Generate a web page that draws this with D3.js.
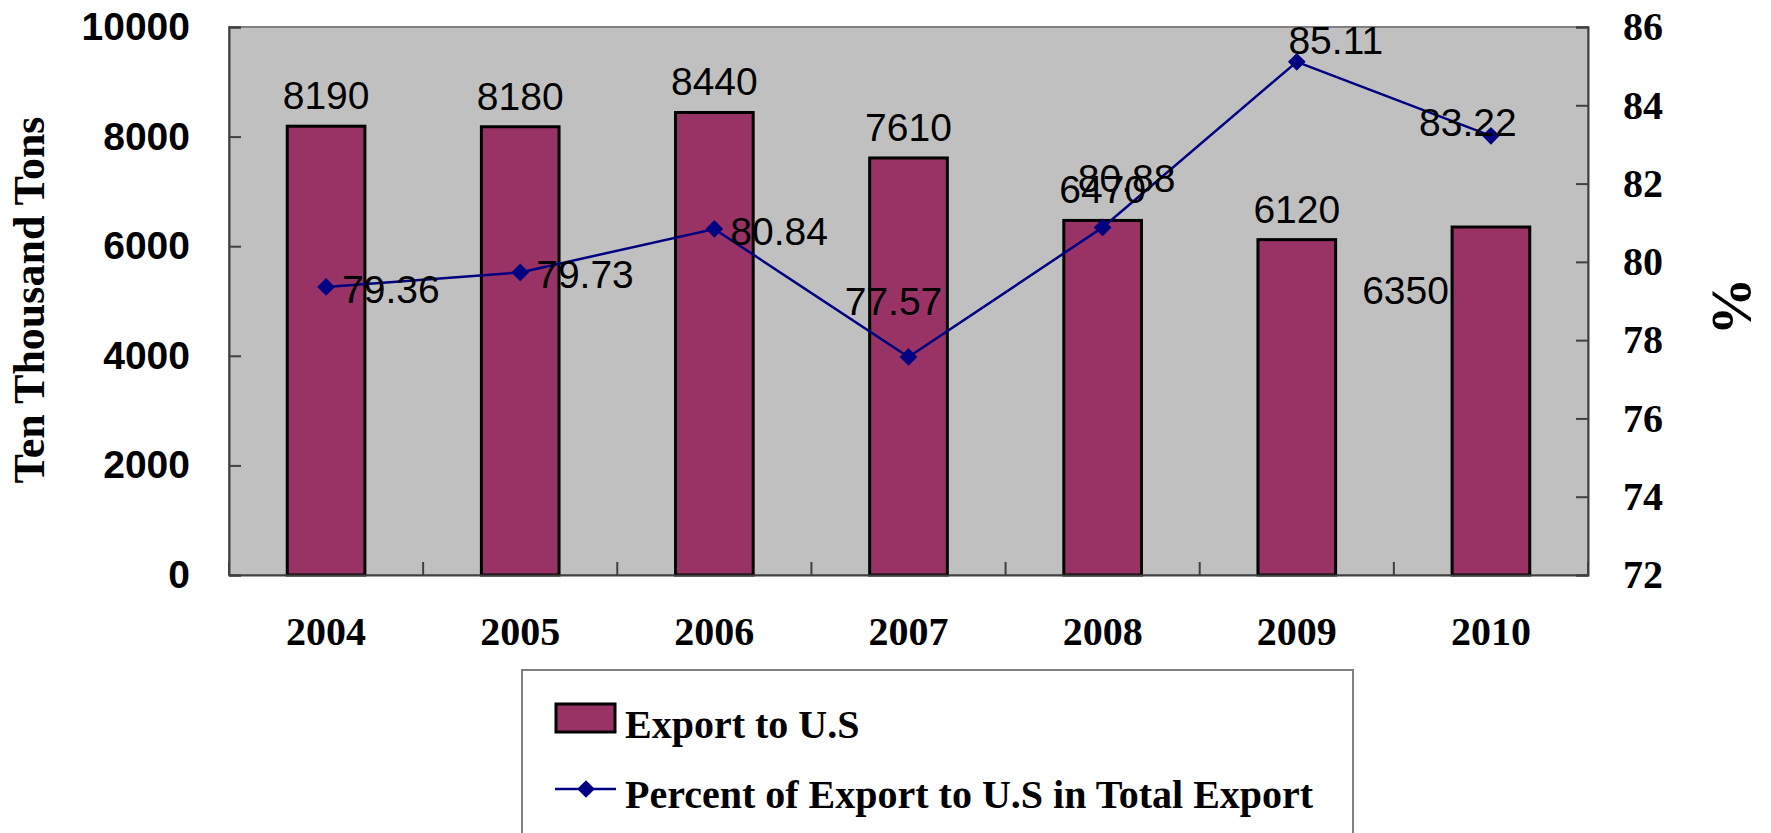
<!DOCTYPE html>
<html>
<head>
<meta charset="utf-8">
<script src="https://cdn.jsdelivr.net/npm/d3@7"></script>
<style>
  body { margin: 0; background: #fff; }
  svg { display: block; }
  .serif { font-family: "Liberation Serif", "Times New Roman", serif; font-weight: bold; }
  .sans { font-family: "Liberation Sans", Arial, sans-serif; }
</style>
</head>
<body>
<div class="visHolder"></div>
<script>
// data
let years = ["2004", "2005", "2006", "2007", "2008", "2009", "2010"];
let exportToUS = [8190, 8180, 8440, 7610, 6470, 6120, 6350];
let percentOfTotal = [79.36, 79.73, 80.84, 77.57, 80.88, 85.11, 83.22];
let leftTicks = [0, 2000, 4000, 6000, 8000, 10000];
let rightTicks = [72, 74, 76, 78, 80, 82, 84, 86];
let seriesNames = ["Export to U.S", "Percent of Export to U.S in Total Export"];

// label placement as it was hand-moved in the original
let barLabelPos = [null, null, null, null, null, null, { anchor: "end", dx: -42, dy: 77 }];
let lineLabelPos = [
  null, null, null,
  { anchor: "middle", dx: -15, dy: -42 },
  { anchor: "middle", dx: 24, dy: -35 },
  { anchor: "middle", dx: 39, dy: -8 },
  { anchor: "middle", dx: -23, dy: 0 }
];

let width = 1771;
let height = 833;
let plot = { left: 229, right: 1588, top: 27, bottom: 575 };

let svg = d3
  .select(".visHolder")
  .append("svg")
  .attr("width", width)
  .attr("height", height);

let xScale = d3
  .scaleBand()
  .domain(years)
  .range([plot.left, plot.right]);

let yLeft = d3.scaleLinear().domain([0, 10000]).range([plot.bottom, plot.top]);
let yRight = d3.scaleLinear().domain([72, 86]).range([plot.bottom, plot.top]);

let barWidth = xScale.bandwidth() * 0.4;
let cx = (d) => xScale(d) + xScale.bandwidth() / 2;

// plot background
svg
  .append("rect")
  .attr("x", plot.left)
  .attr("y", plot.top)
  .attr("width", plot.right - plot.left)
  .attr("height", plot.bottom - plot.top)
  .attr("fill", "#c0c0c0")
  .attr("stroke", "#808080")
  .attr("stroke-width", 2);

// bars
svg
  .selectAll("rect.bar")
  .data(exportToUS)
  .enter()
  .append("rect")
  .attr("class", "bar")
  .attr("x", (d, i) => cx(years[i]) - barWidth / 2)
  .attr("y", (d) => yLeft(d))
  .attr("width", barWidth)
  .attr("height", (d) => plot.bottom - yLeft(d))
  .attr("fill", "#993366")
  .attr("stroke", "#000")
  .attr("stroke-width", 3);

// axes
let leftAxis = d3
  .axisLeft(yLeft)
  .tickValues(leftTicks)
  .tickSize(-12)
  .tickPadding(27 + 12)
  .tickFormat(d3.format("d"));
let gl = svg
  .append("g")
  .attr("transform", "translate(" + plot.left + ",0)")
  .call(leftAxis);
gl.selectAll("text")
  .attr("class", "sans")
  .style("font-size", "39px")
  .style("font-weight", "bold")
  .attr("fill", "#000");

let rightAxis = d3
  .axisRight(yRight)
  .tickValues(rightTicks)
  .tickSize(-12)
  .tickPadding(23 + 12);
let gr = svg
  .append("g")
  .attr("transform", "translate(" + plot.right + ",0)")
  .call(rightAxis);
gr.selectAll("text")
  .attr("class", "serif")
  .style("font-size", "40px")
  .attr("fill", "#000");

let bottomAxis = d3.axisBottom(xScale).tickSize(0).tickPadding(42);
let gb = svg
  .append("g")
  .attr("transform", "translate(0," + plot.bottom + ")")
  .call(bottomAxis);
gb.selectAll("text")
  .attr("class", "serif")
  .style("font-size", "40px")
  .attr("fill", "#000");

// category separators on the bottom axis
let edges = years.map((d) => xScale(d)).concat([plot.right]);
svg
  .selectAll("line.cat-tick")
  .data(edges)
  .enter()
  .append("line")
  .attr("x1", (d) => d)
  .attr("x2", (d) => d)
  .attr("y1", plot.bottom)
  .attr("y2", plot.bottom - 13)
  .attr("stroke", "#404040")
  .attr("stroke-width", 2);

[gl, gr, gb].forEach(function (g) {
  g.select(".domain").attr("stroke", "#404040").attr("stroke-width", 2);
  g.selectAll(".tick line").attr("stroke", "#404040").attr("stroke-width", 2);
});

// line series
let line = d3
  .line()
  .x((d, i) => cx(years[i]))
  .y((d) => yRight(d));

svg
  .append("path")
  .datum(percentOfTotal)
  .attr("d", line)
  .attr("fill", "none")
  .attr("stroke", "#000080")
  .attr("stroke-width", 2.5);

let diamond = d3.symbol().type(d3.symbolDiamond2).size(200);
svg
  .selectAll("path.marker")
  .data(percentOfTotal)
  .enter()
  .append("path")
  .attr("class", "marker")
  .attr("d", diamond)
  .attr("transform", (d, i) => "translate(" + cx(years[i]) + "," + yRight(d) + ")")
  .attr("fill", "#000080");

// bar value labels
svg
  .selectAll("text.bar-label")
  .data(exportToUS)
  .enter()
  .append("text")
  .attr("class", "sans")
  .attr("x", (d, i) => cx(years[i]) + (barLabelPos[i] ? barLabelPos[i].dx : 0))
  .attr("y", (d, i) => yLeft(d) + (barLabelPos[i] ? barLabelPos[i].dy : -17))
  .attr("text-anchor", (d, i) => (barLabelPos[i] ? barLabelPos[i].anchor : "middle"))
  .style("font-size", "39px")
  .text((d) => d);

// percent labels
svg
  .selectAll("text.line-label")
  .data(percentOfTotal)
  .enter()
  .append("text")
  .attr("class", "sans")
  .attr("x", (d, i) => cx(years[i]) + (lineLabelPos[i] ? lineLabelPos[i].dx : 16))
  .attr("y", (d, i) => yRight(d) + (lineLabelPos[i] ? lineLabelPos[i].dy : 16))
  .attr("text-anchor", (d, i) => (lineLabelPos[i] ? lineLabelPos[i].anchor : "start"))
  .style("font-size", "39px")
  .text((d) => d.toFixed(2));

// axis titles
svg
  .append("text")
  .attr("class", "serif")
  .attr("transform", "translate(44,300) rotate(-90)")
  .attr("text-anchor", "middle")
  .style("font-size", "44px")
  .text("Ten Thousand Tons");

svg
  .append("text")
  .attr("class", "serif")
  .attr("transform", "translate(1713,306) rotate(90)")
  .attr("text-anchor", "middle")
  .style("font-size", "58px")
  .text("%");

// legend
let legend = svg.append("g");
legend
  .append("rect")
  .attr("x", 522)
  .attr("y", 670)
  .attr("width", 831)
  .attr("height", 200)
  .attr("fill", "#fff")
  .attr("stroke", "#808080")
  .attr("stroke-width", 2);

legend
  .append("rect")
  .attr("x", 556)
  .attr("y", 704)
  .attr("width", 59)
  .attr("height", 28)
  .attr("fill", "#993366")
  .attr("stroke", "#000")
  .attr("stroke-width", 3);

legend
  .append("line")
  .attr("x1", 555)
  .attr("x2", 616)
  .attr("y1", 789)
  .attr("y2", 789)
  .attr("stroke", "#000080")
  .attr("stroke-width", 2.5);

legend
  .append("path")
  .attr("d", diamond)
  .attr("transform", "translate(586,789)")
  .attr("fill", "#000080");

legend
  .selectAll("text")
  .data(seriesNames)
  .enter()
  .append("text")
  .attr("class", "serif")
  .attr("x", 625)
  .attr("y", (d, i) => 738 + i * 70)
  .style("font-size", "40px")
  .text((d) => d);
</script>
</body>
</html>
